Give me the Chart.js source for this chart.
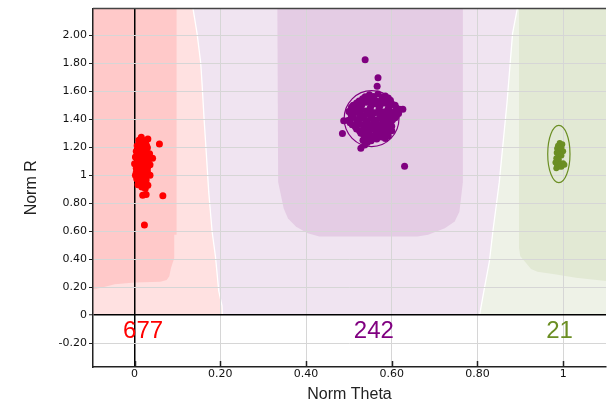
<!DOCTYPE html>
<html><head><meta charset="utf-8">
<script src="https://cdn.jsdelivr.net/npm/chart.js@4.4.1/dist/chart.umd.min.js"></script>
<style>html,body{margin:0;padding:0;background:#fff;}#wrap{width:610px;height:403px;}</style>
</head><body><div id="wrap"><canvas id="c" width="610" height="403"></canvas></div>
<script>
// ---- data ----
const xTickStep = 0.2, yTickStep = 0.2;
const xRange = [-0.097, 1.1];
const yRange = [-0.371, 2.19];
const classNames = ['677', '242', '21'];
const classColors = ['#ff0000', '#800080', '#6b8e23'];

const redPoints = [[0.0157,1.27],[0.031,1.258],[0.058,1.222],[0.010,1.25],[0.022,1.245],[0.014,1.23],[0.026,1.225],[0.006,1.21],[0.018,1.205],[0.030,1.195],[0.010,1.19],[0.022,1.18],[0.004,1.17],[0.016,1.165],[0.028,1.16],[0.035,1.152],[0.009,1.15],[0.021,1.14],[0.002,1.13],[0.014,1.125],[0.042,1.12],[0.030,1.115],[0.008,1.105],[0.020,1.10],[0.000,1.081],[0.012,1.085],[0.026,1.08],[0.036,1.075],[0.006,1.065],[0.018,1.06],[0.030,1.05],[0.010,1.04],[0.022,1.035],[0.004,1.02],[0.016,1.015],[0.028,1.01],[0.010,0.995],[0.021,0.99],[0.005,0.975],[0.016,0.97],[0.027,0.965],[0.010,0.95],[0.020,0.945],[0.031,0.928],[0.008,0.932],[0.017,0.915],[0.025,0.905],[0.019,0.857],[0.027,0.861],[0.066,0.852],[0.023,0.644],
[0.018,1.24],[0.028,1.21],[0.012,1.175],[0.024,1.155],[0.006,1.14],[0.034,1.13],[0.016,1.09],[0.032,1.095],[0.004,1.05],[0.024,1.045],[0.012,1.025],[0.030,1.025],[0.020,0.975],[0.013,0.96],[0.024,0.925],[0.014,0.935],[0.036,1.00],[0.002,1.00]];

const purplePoints = [[0.538,1.824],[0.568,1.695],[0.566,1.636],[0.626,1.47],[0.618,1.47],[0.488,1.388],[0.485,1.298],[0.528,1.192],[0.630,1.064],[0.543,1.234],[0.537,1.215],
[0.548,1.575],[0.568,1.58],[0.585,1.565],
[0.532,1.545],[0.556,1.55],[0.578,1.54],[0.597,1.535],
[0.518,1.515],[0.540,1.52],[0.562,1.51],[0.583,1.515],[0.602,1.505],
[0.506,1.485],[0.527,1.49],[0.550,1.48],[0.571,1.485],[0.592,1.478],[0.610,1.482],
[0.500,1.455],[0.520,1.45],[0.541,1.458],[0.560,1.445],[0.580,1.452],[0.603,1.448],
[0.510,1.42],[0.531,1.425],[0.552,1.418],[0.572,1.422],[0.592,1.415],[0.611,1.425],
[0.498,1.39],[0.519,1.395],[0.543,1.388],[0.563,1.392],[0.584,1.385],[0.602,1.395],
[0.508,1.36],[0.529,1.362],[0.550,1.355],[0.570,1.36],[0.590,1.352],
[0.518,1.33],[0.538,1.328],[0.558,1.332],[0.578,1.325],[0.594,1.33],
[0.528,1.30],[0.548,1.298],[0.568,1.302],[0.588,1.295],
[0.538,1.27],[0.558,1.268],[0.576,1.272],[0.533,1.25],[0.552,1.245],
[0.515,1.47],[0.545,1.435],[0.585,1.43],[0.525,1.405],[0.565,1.37],[0.535,1.345],[0.575,1.31],[0.555,1.52],[0.595,1.46],[0.56,1.285],
[0.538,1.56],[0.558,1.562],[0.578,1.558],[0.592,1.552],
[0.524,1.53],[0.545,1.532],[0.566,1.528],[0.588,1.53],
[0.510,1.50],[0.530,1.502],[0.552,1.498],[0.573,1.50],[0.594,1.495],[0.608,1.50],
[0.505,1.465],[0.530,1.468],[0.550,1.462],[0.570,1.466],[0.590,1.462],[0.612,1.465],
[0.505,1.435],[0.525,1.437],[0.555,1.433],[0.575,1.436],[0.598,1.432],[0.616,1.44],
[0.505,1.405],[0.535,1.407],[0.555,1.403],[0.575,1.405],[0.595,1.402],[0.608,1.41],
[0.503,1.375],[0.520,1.377],[0.540,1.373],[0.558,1.376],[0.580,1.372],[0.598,1.375],
[0.515,1.345],[0.548,1.343],[0.560,1.347],[0.582,1.342],[0.600,1.35],
[0.525,1.315],[0.545,1.313],[0.565,1.317],[0.585,1.312],[0.600,1.318],
[0.535,1.285],[0.550,1.283],[0.580,1.287],[0.592,1.28],
[0.545,1.26],[0.565,1.258],[0.585,1.262]];

const greenPoints = [[0.992,1.23],[0.998,1.22],[0.988,1.21],[0.996,1.20],[0.986,1.19],[0.994,1.18],[1.000,1.17],[0.985,1.16],[0.992,1.15],[0.988,1.13],[0.996,1.14],[0.984,1.12],[0.990,1.11],[0.982,1.09],[0.986,1.07],[0.994,1.08],[1.000,1.085],[0.990,1.06],[0.984,1.05],[0.996,1.06],[1.003,1.075]];

// confidence ellipses [cx, cy, rx, ry]
const purpleEllipse = [0.553, 1.404, 0.064, 0.20];
const greenEllipse = [0.990, 1.151, 0.026, 0.205];

// decision regions (data units)
const purpleBase = [[-0.2,0],[1.2,0],[1.2,2.3],[-0.2,2.3]];
const pinkEdge = [[0.136,2.3],[0.1364,2.19],[0.1457,2.015],[0.1543,1.803],[0.1573,1.661],[0.162,1.412],[0.1672,1.164],[0.173,0.88],[0.1809,0.597],[0.1887,0.42],[0.1964,0.172],[0.204,0.066],[0.205,0]];
const greenEdge = [[0.894,2.3],[0.893,2.19],[0.882,2.013],[0.869,1.517],[0.851,0.95],[0.836,0.597],[0.828,0.385],[0.815,0.172],[0.805,0]];
const redCore = [[-0.2,2.3],[0.098,2.3],[0.098,0.574],[0.0926,0.574],[0.0926,0.408],[0.085,0.337],[0.081,0.278],[0.075,0.25],[0.06,0.238],[0.0,0.232],[-0.046,0.22],[-0.092,0.184],[-0.2,0.184]];
const purpleCore = [[0.333,2.3],[0.766,2.3],[0.766,0.95],[0.758,0.739],[0.747,0.668],[0.724,0.62],[0.685,0.574],[0.66,0.562],[0.431,0.562],[0.404,0.585],[0.377,0.632],[0.358,0.691],[0.348,0.762],[0.335,0.951]];
const greenCore = [[0.897,2.3],[1.2,2.3],[1.2,0.243],[1.1,0.243],[1.03,0.266],[0.98,0.292],[0.94,0.31],[0.925,0.33],[0.91,0.385],[0.9,0.42],[0.897,0.479]];
const countLabelY = -0.12;

// ---- drawing ----
const pinkRegion = [[-0.2,0],[-0.2,2.3]].concat(pinkEdge);
const greenRegion = greenEdge.concat([[1.2,0],[1.2,2.3]]);

function poly(ctx, x, y, pts) {
  ctx.beginPath();
  pts.forEach((p, i) => {
    const px = x.getPixelForValue(p[0]), py = y.getPixelForValue(p[1]);
    if (i === 0) ctx.moveTo(px, py); else ctx.lineTo(px, py);
  });
}
function fillPoly(ctx, x, y, pts, color) {
  poly(ctx, x, y, pts); ctx.closePath(); ctx.fillStyle = color; ctx.fill();
}
function ellipse(ctx, x, y, e, color) {
  const cx = x.getPixelForValue(e[0]), cy = y.getPixelForValue(e[1]);
  const rx = Math.abs(x.getPixelForValue(e[0] + e[2]) - cx);
  const ry = Math.abs(y.getPixelForValue(e[1] + e[3]) - cy);
  ctx.beginPath(); ctx.ellipse(cx, cy, rx, ry, 0, 0, Math.PI * 2);
  ctx.strokeStyle = color; ctx.lineWidth = 1.2; ctx.stroke();
}
const mean = pts => pts.reduce((s, p) => s + p[0], 0) / pts.length;

const regionPlugin = {
  id: 'regions',
  beforeDraw(chart) {
    const {ctx, chartArea: a, scales: {x, y}} = chart;
    ctx.save();
    ctx.beginPath(); ctx.rect(a.left, a.top, a.right - a.left, a.bottom - a.top); ctx.clip();
    fillPoly(ctx, x, y, purpleBase, '#f0e4f1');
    fillPoly(ctx, x, y, pinkRegion, '#ffe1e1');
    fillPoly(ctx, x, y, greenRegion, '#eef2e7');
    fillPoly(ctx, x, y, redCore, '#ffc9c9');
    fillPoly(ctx, x, y, purpleCore, '#e4cce4');
    fillPoly(ctx, x, y, greenCore, '#e2e9d4');
    ctx.lineWidth = 1.3; ctx.strokeStyle = '#ffffff';
    poly(ctx, x, y, pinkEdge); ctx.stroke();
    poly(ctx, x, y, greenEdge); ctx.stroke();
    ctx.restore();
  },
  beforeDatasetsDraw(chart) {
    const {ctx, scales: {x, y}} = chart;
    ctx.save();
    ellipse(ctx, x, y, purpleEllipse, classColors[1]);
    ellipse(ctx, x, y, greenEllipse, classColors[2]);
    ctx.restore();
  },
  afterDatasetsDraw(chart) {
    const {ctx, chartArea: a, scales: {x, y}} = chart;
    ctx.save();
    ctx.strokeStyle = '#444'; ctx.lineWidth = 1.5;
    ctx.beginPath(); ctx.moveTo(a.left, a.top); ctx.lineTo(a.right, a.top); ctx.stroke();
    ctx.strokeStyle = '#222'; ctx.lineWidth = 1.5;
    x.ticks.forEach(t => {
      const px = Math.round(x.getPixelForValue(t.value)) + 0.5;
      ctx.beginPath(); ctx.moveTo(px, a.bottom); ctx.lineTo(px, a.bottom - 6); ctx.stroke();
    });
    ctx.font = '24px "Liberation Sans", Arial, sans-serif';
    ctx.textAlign = 'center'; ctx.textBaseline = 'middle';
    [redPoints, purplePoints, greenPoints].forEach((pts, i) => {
      ctx.fillStyle = classColors[i];
      ctx.fillText(classNames[i], x.getPixelForValue(mean(pts)), y.getPixelForValue(countLabelY));
    });
    ctx.restore();
  }
};

const isZero = v => Math.abs(v) < 1e-9;
const fmt = v => isZero(v) ? '0' : (Math.abs(v - 1) < 1e-9 ? '1' : v.toFixed(2));
const gridColor = c => (c.tick && isZero(c.tick.value)) ? '#000' : '#d6d6d6';
const gridWidth = c => (c.tick && isZero(c.tick.value)) ? 1.5 : 1;
const toXY = pts => pts.map(p => ({x: p[0], y: p[1]}));

new Chart(document.getElementById('c'), {
  type: 'scatter',
  data: {
    datasets: [
      {data: toXY(redPoints), backgroundColor: classColors[0], borderColor: classColors[0], pointRadius: 3.5, pointBorderWidth: 0},
      {data: toXY(purplePoints), backgroundColor: classColors[1], borderColor: classColors[1], pointRadius: 3.5, pointBorderWidth: 0},
      {data: toXY(greenPoints), backgroundColor: classColors[2], borderColor: classColors[2], pointRadius: 3, pointBorderWidth: 0}
    ]
  },
  options: {
    responsive: false, animation: false, events: [],
    layout: {padding: {top: 5, right: 0, left: 0, bottom: 0}},
    plugins: {legend: {display: false}, tooltip: {enabled: false}},
    scales: {
      x: {
        type: 'linear', min: xRange[0], max: xRange[1],
        afterFit: s => { s.height = 36; },
        ticks: {stepSize: xTickStep, includeBounds: false, autoSkip: false, maxRotation: 0, padding: 1,
          color: '#111', font: {family: '"DejaVu Sans", Verdana, sans-serif', size: 11}, callback: fmt},
        grid: {color: gridColor, lineWidth: gridWidth, drawTicks: false},
        border: {display: true, color: '#222', width: 1.5},
        title: {display: true, text: 'Norm Theta', color: '#222',
          font: {family: '"Liberation Sans", Arial, sans-serif', size: 16}, padding: {top: 0, bottom: -1}}
      },
      y: {
        type: 'linear', min: yRange[0], max: yRange[1],
        afterFit: s => { s.width = 93; },
        ticks: {stepSize: yTickStep, includeBounds: false, autoSkip: false, padding: 2,
          color: '#111', font: {family: '"DejaVu Sans", Verdana, sans-serif', size: 11}, callback: fmt},
        grid: {color: gridColor, lineWidth: gridWidth, drawTicks: true, tickLength: 4, tickColor: '#222', tickWidth: 1},
        border: {display: true, color: '#222', width: 1.5},
        title: {display: true, text: 'Norm R', color: '#222',
          font: {family: '"Liberation Sans", Arial, sans-serif', size: 16}, padding: {top: 22, bottom: 0}}
      }
    }
  },
  plugins: [regionPlugin]
});
</script></body></html>
